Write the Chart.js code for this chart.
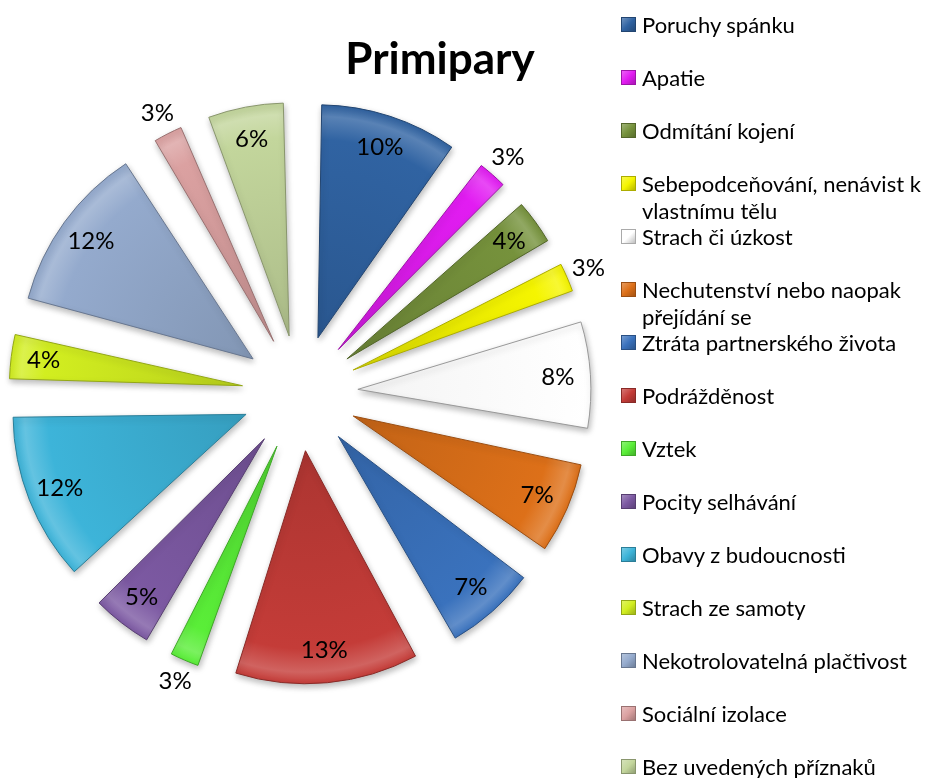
<!DOCTYPE html>
<html>
<head>
<meta charset="utf-8">
<script src="https://cdn.jsdelivr.net/npm/chart.js@4.4.1/dist/chart.umd.min.js"></script>
<style>
  html, body { margin: 0; padding: 0; background: #fff; }
  #wrap { position: relative; width: 928px; height: 778px; }
  #legend { position: absolute; left: 621px; top: 0; width: 307px; font-family: Lato, sans-serif; font-size: 22px; color: #000; }
  .item { position: absolute; left: 0; width: 286px; line-height: 27px; padding-left: 21px; }
  .box { position: absolute; left: 0; top: 6px; width: 15px; height: 15px; box-sizing: border-box; }
</style>
</head>
<body>
<div id="wrap">
  <canvas id="Chart" width="928" height="778"></canvas>
  <div id="legend"></div>
</div>
<script>
const title = 'Primipary';
const labels = [
    'Poruchy spánku',
    'Apatie',
    'Odmítání kojení',
    'Sebepodceňování, nenávist k vlastnímu tělu',
    'Strach či úzkost',
    'Nechutenství nebo naopak přejídání se',
    'Ztráta partnerského života',
    'Podrážděnost',
    'Vztek',
    'Pocity selhávání',
    'Obavy z budoucnosti',
    'Strach ze samoty',
    'Nekotrolovatelná plačtivost',
    'Sociální izolace',
    'Bez uvedených příznaků'
];
const values = [10, 3, 4, 3, 8, 7, 7, 13, 3, 5, 12, 4, 12, 3, 6];
const colors = [
    '#3063A2', '#E21CF2', '#76923C', '#F5F500', '#FFFFFF',
    '#DD7019', '#3A72BD', '#C43C38', '#5AEE38', '#7C59A2',
    '#3DB4D9', '#D2EE20', '#94AACD', '#DBA1A1', '#C3D69C'
];

const radius = 233;   // visible pie radius
const explode = 58;   // distance each slice is pulled out

// lighten (amt > 0) or darken (amt < 0) a hex colour
function shade(hex, amt) {
    let n = parseInt(hex.slice(1), 16);
    let c = [n >> 16, (n >> 8) & 255, n & 255].map(v => {
        v = amt < 0 ? v * (1 + amt) : v + (255 - v) * amt;
        return Math.round(Math.max(0, Math.min(255, v)));
    });
    return 'rgb(' + c.join(',') + ')';
}

// legend on the right
const legend = document.getElementById('legend');
labels.forEach((name, i) => {
    let item = document.createElement('div');
    item.className = 'item';
    item.style.top = (24 + i * 53 - 13) + 'px';
    let box = document.createElement('span');
    box.className = 'box';
    let c = colors[i];
    box.style.background = 'linear-gradient(135deg,' + shade(c, 0.3) + ',' + c + ' 50%,' + shade(c, -0.25) + ')';
    box.style.border = '1px solid ' + (c == '#FFFFFF' ? '#aaa' : shade(c, -0.3));
    item.appendChild(box);
    item.appendChild(document.createTextNode(name));
    legend.appendChild(item);
});

function sliceFill(context) {
    let chart = context.chart;
    let base = colors[context.dataIndex];
    let area = chart.chartArea;
    if (!area) return base;
    let cx = (area.left + area.right) / 2;
    let cy = (area.top + area.bottom) / 2;
    let g = chart.ctx.createRadialGradient(cx, cy, 0, cx, cy, radius);
    if (base == '#FFFFFF') {
        g.addColorStop(0, '#f4f4f4');
        g.addColorStop(1, '#ffffff');
        return g;
    }
    g.addColorStop(0, shade(base, -0.12));
    g.addColorStop(0.85, base);
    g.addColorStop(0.95, shade(base, 0.2));
    g.addColorStop(1, base);
    return g;
}

const ctx = document.getElementById('Chart').getContext('2d');
let myChart = new Chart(ctx, {
    type: 'pie',
    data: {
        labels: labels,
        datasets: [{
            data: values,
            backgroundColor: sliceFill,
            borderColor: labels.map((l, i) => colors[i] == '#FFFFFF' ? '#999999' : shade(colors[i], -0.3)),
            borderWidth: 1,
            offset: explode * 4,
            clip: false
        }]
    },
    options: {
        responsive: false,
        animation: false,
        events: [],
        radius: radius,
        layout: { padding: { top: 8, right: 328, bottom: 0, left: 0 } },
        plugins: {
            legend: { display: false },
            tooltip: { enabled: false }
        }
    },
    plugins: [{
        id: 'evenExplode',
        // the arc grows its outer radius with the offset; keep all slices the same size
        afterDatasetUpdate(chart, args) {
            args.meta.data.forEach(arc => {
                let fix = 1 - Math.sin(Math.min(Math.PI, arc.circumference));
                arc.outerRadius = radius - explode * fix;
            });
        },
        beforeDatasetsDraw(chart) {
            let c = chart.ctx;
            c.save();
            c.shadowColor = 'rgba(0,0,0,0.28)';
            c.shadowBlur = 6;
            c.shadowOffsetX = 1;
            c.shadowOffsetY = 3;
        },
        afterDatasetsDraw(chart) {
            let c = chart.ctx;
            c.restore();
            let meta = chart.getDatasetMeta(0);
            c.save();
            c.fillStyle = '#000';
            c.textAlign = 'center';
            c.textBaseline = 'middle';
            c.font = '24px Lato';
            meta.data.forEach((arc, i) => {
                let mid = (arc.startAngle + arc.endAngle) / 2;
                let d = explode + radius * (values[i] <= 3 ? 1.1 : 0.86);
                c.fillText(values[i] + '%', arc.x + Math.cos(mid) * d, arc.y + Math.sin(mid) * d);
            });
            c.font = 'bold 44px Lato';
            c.fillText(title, 440, 60);
            c.restore();
        }
    }]
});
</script>
</body>
</html>
